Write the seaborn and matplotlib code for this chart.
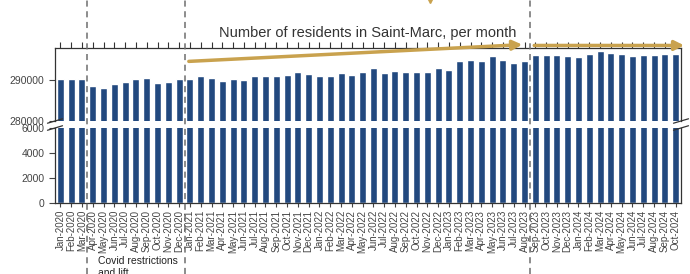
import pandas as pd
import matplotlib.pyplot as plt
import matplotlib.transforms as mtransforms
from matplotlib.lines import Line2D
import seaborn as sns

sns.set_style("ticks")
plt.rcParams['font.family'] = ['Liberation Sans', 'DejaVu Sans']

# Données : habitants par mois (jan 2020 - oct 2024)
mois = list(pd.date_range('2020-01-01', periods=58, freq='MS').strftime('%b-%Y'))
residents = [
    290200, 290200, 290400, 288500, 288100, 289000, 289500, 290300, 290500, 289200, 289500, 290200,
    290200, 290900, 290600, 289900, 290200, 290000, 291000, 291100, 291100, 291200, 291900, 291600,
    291000, 291000, 291800, 291200, 292100, 292900, 291800, 292200, 292100, 292100, 292100, 293100,
    292500, 294800, 294900, 294600, 295800, 295000, 294200, 294700, 296200, 296200, 296200, 296000,
    295700, 296400, 297200, 296700, 296400, 295900, 296100, 296200, 296300, 296500,
]
# positions des séparations (entre deux mois)
separations = [2.5, 11.5, 43.5]
annotation = "Covid restrictions\nand lift"
titre = "Number of residents in Saint-Marc, per month"

df = pd.DataFrame({'Mois': mois, 'Residents': residents})

bleu = '#22497f'
or_ = '#c9a24e'
gris = '#6e6e6e'

fig = plt.figure(figsize=(6.9, 2.74), dpi=100)
W, H = 690, 274
ax_haut = fig.add_axes([55 / W, 1 - 121 / H, 626 / W, 73.5 / H])
ax_bas = fig.add_axes([55 / W, 1 - 203 / H, 626 / W, 75 / H])

for ax in (ax_haut, ax_bas):
    sns.barplot(data=df, x='Mois', y='Residents', color=bleu, width=0.65,
                saturation=1, ax=ax)
    ax.set_xlabel('')
    ax.set_ylabel('')
    ax.set_xlim(-0.5, len(mois) - 0.5)
    for s in ax.spines.values():
        s.set_color('#333333')
        s.set_linewidth(0.9)

ax_haut.set_ylim(280000, 298000)
ax_haut.set_yticks([280000, 290000])
ax_haut.spines['bottom'].set_visible(False)
ax_haut.xaxis.tick_top()
ax_haut.tick_params(axis='x', labeltop=False, length=4, width=0.8, color='#333333')
ax_haut.tick_params(axis='y', labelsize=7.5, length=4, colors='#444444')

ax_bas.set_ylim(0, 6000)
ax_bas.set_yticks([0, 2000, 4000, 6000])
ax_bas.spines['top'].set_visible(False)
ax_bas.tick_params(axis='x', rotation=90, labelsize=7, length=3, pad=2, colors='#444444')
ax_bas.tick_params(axis='y', labelsize=7.5, length=4, colors='#444444')

# marques de coupure
d = 0.012
kw = dict(color='#333333', lw=0.9, clip_on=False)
ax_haut.plot([-d, d], [-0.03, 0.03], transform=ax_haut.transAxes, **kw)
ax_haut.plot([1 - d, 1 + d], [-0.03, 0.03], transform=ax_haut.transAxes, **kw)
ax_bas.plot([-d, d], [0.97, 1.03], transform=ax_bas.transAxes, **kw)
ax_bas.plot([1 - d, 1 + d], [0.97, 1.03], transform=ax_bas.transAxes, **kw)

# lignes verticales pointillées sur toute la hauteur
trans = mtransforms.blended_transform_factory(ax_bas.transData, fig.transFigure)
for xs in separations:
    fig.add_artist(Line2D([xs, xs], [0, 1], transform=trans, color=gris,
                          lw=1.1, ls=(0, (4, 3)), zorder=5))

# flèches dorées
ax_haut.annotate('', xy=(42.8, 298700), xytext=(11.9, 294600),
                 arrowprops=dict(arrowstyle='-|>', color=or_, lw=2.5, mutation_scale=14,
                                 shrinkA=0, shrinkB=0),
                 annotation_clip=False)
ax_haut.annotate('', xy=(57.8, 298500), xytext=(43.9, 298500),
                 arrowprops=dict(arrowstyle='-|>', color=or_, lw=2.5, mutation_scale=14,
                                 shrinkA=0, shrinkB=0),
                 annotation_clip=False)
# pointe de flèche coupée en haut de l'image
fig.add_artist(Line2D([430 / W], [1 + 2 / H], transform=fig.transFigure, marker='v',
                      color=or_, markersize=7, ls='', clip_on=False))

fig.text(368 / W, 1 - 33 / H, titre, ha='center', va='center', fontsize=10.5, color='#333333')
fig.text(98 / W, 1 - 256 / H, annotation, ha='left', va='top', fontsize=7.5,
         color='#222222', linespacing=1.3)

plt.savefig('out.png', dpi=100)
